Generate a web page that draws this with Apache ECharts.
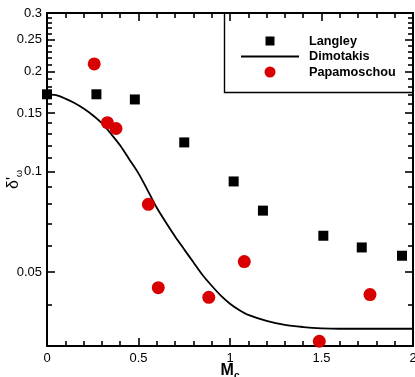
<!DOCTYPE html>
<html>
<head>
<meta charset="utf-8">
<script src="https://cdn.jsdelivr.net/npm/echarts@6/dist/echarts.min.js"></script>
<style>
  html, body { margin: 0; padding: 0; background: #fff; }
  #chart { width: 415px; height: 377px; }
</style>
</head>
<body>
<div id="chart"></div>
<script>
// Convective Mach number vs. normalised vorticity thickness growth
const langleyMc    = [0, 0.27, 0.48, 0.75, 1.02, 1.18, 1.51, 1.72, 1.94];
const langleyDelta = [0.171, 0.171, 0.165, 0.1226, 0.0936, 0.0765, 0.0643, 0.0593, 0.056];

const papamoschouMc    = [0.258, 0.33, 0.377, 0.554, 0.608, 0.884, 1.078, 1.488, 1.765];
const papamoschouDelta = [0.211, 0.1405, 0.135, 0.0799, 0.0449, 0.042, 0.0538, 0.031, 0.0428];

const dimotakisMc    = [0, 0.05, 0.1, 0.15, 0.2, 0.25, 0.3, 0.35, 0.4, 0.45, 0.5, 0.55, 0.6, 0.65, 0.7, 0.75, 0.8, 0.85, 0.9, 0.95, 1.0, 1.05, 1.1, 1.2, 1.3, 1.4, 1.5, 1.6, 1.8, 2.0];
const dimotakisDelta = [0.171, 0.170, 0.166, 0.161, 0.155, 0.148, 0.140, 0.130, 0.120, 0.109, 0.099, 0.088, 0.078, 0.0705, 0.064, 0.0585, 0.0535, 0.049, 0.0455, 0.0425, 0.0402, 0.0385, 0.0372, 0.0357, 0.0347, 0.0342, 0.0339, 0.0338, 0.0338, 0.0338];

// Axis ranges and tick values
const xMin = 0, xMax = 2, xStep = 0.5;
const yMin = 0.03, yMax = 0.3;
const yLabelValues = [0.05, 0.1, 0.15, 0.2, 0.25, 0.3];
const yMinorValues = [0.04, 0.06, 0.07, 0.08, 0.09, 0.11, 0.12, 0.13, 0.14,
                      0.16, 0.17, 0.18, 0.19, 0.21, 0.22, 0.23, 0.24,
                      0.26, 0.27, 0.28, 0.29];

const FONT = '"Liberation Sans", Arial, Helvetica, sans-serif';
const RED = '#d80000';
const TICK = { color: '#000', width: 1.6 };
const lg = v => Math.log10(v);

const chart = echarts.init(document.getElementById('chart'));

// Tick-only y axes laid over the logarithmic data axis (log10 space)
function tickAxis(position, values, len, withLabels, withLine) {
  return {
    type: 'value',
    position: position,
    min: lg(yMin),
    max: lg(yMax),
    axisLine: { show: withLine, lineStyle: { color: '#000', width: 2 } },
    axisTick: {
      show: true, inside: true, length: len,
      customValues: values.map(lg),
      lineStyle: TICK
    },
    axisLabel: {
      show: withLabels,
      customValues: yLabelValues.map(lg),
      margin: 5,
      color: '#000',
      fontFamily: FONT,
      fontSize: 13,
      formatter: v => String(+Math.pow(10, v).toPrecision(3))
    },
    splitLine: { show: false }
  };
}

function xAxisFor(position, withLabels) {
  return {
    type: 'value',
    position: position,
    min: xMin, max: xMax, interval: xStep,
    axisLine: { show: true, lineStyle: { color: '#000', width: 2 } },
    axisTick: { show: true, inside: true, length: 8, lineStyle: TICK },
    minorTick: { show: true, splitNumber: 5, length: 5, lineStyle: TICK },
    axisLabel: { show: withLabels, margin: 6, color: '#000', fontFamily: FONT, fontSize: 13 },
    splitLine: { show: false },
    minorSplitLine: { show: false }
  };
}

const xBottom = xAxisFor('bottom', true);
xBottom.name = '{m|M}{c|c}';
xBottom.nameLocation = 'middle';
xBottom.nameGap = 19;
xBottom.nameMoveOverlap = false;
xBottom.nameTextStyle = {
  rich: {
    m: { fontFamily: FONT, fontWeight: 'bold', fontSize: 16, color: '#000', lineHeight: 16, padding: [0, 0, 4, 0] },
    c: { fontFamily: FONT, fontWeight: 'bold', fontSize: 10, color: '#000', lineHeight: 10, verticalAlign: 'bottom' }
  }
};

const legendText = pad => ({
  fontFamily: FONT, fontWeight: 'bold', fontSize: 12.7, color: '#000', padding: [0, 0, 0, pad]
});

chart.setOption({
  animation: false,
  backgroundColor: '#fff',
  grid: { left: 47, right: 2, top: 13, bottom: 31, outerBoundsMode: 'none' },
  xAxis: [xBottom, xAxisFor('top', false)],
  yAxis: [
    {
      type: 'log',
      logBase: 10,
      position: 'left',
      min: yMin,
      max: yMax,
      axisLine: { show: true, lineStyle: { color: '#000', width: 2 } },
      axisTick: { show: false },
      axisLabel: { show: false },
      splitLine: { show: false },
      name: "{d|δ'}{w|ω}",
      nameLocation: 'middle',
      nameRotate: 90,
      nameGap: 23,
      nameMoveOverlap: false,
      nameTextStyle: {
        rich: {
          d: { fontFamily: FONT, fontSize: 16, color: '#000', lineHeight: 16, padding: [0, 0, 5, 0] },
          w: { fontFamily: FONT, fontSize: 9, color: '#000', lineHeight: 9, verticalAlign: 'bottom' }
        }
      }
    },
    tickAxis('left', yLabelValues, 8, true, false),
    tickAxis('left', yMinorValues, 5, false, false),
    tickAxis('right', yLabelValues, 8, false, true),
    tickAxis('right', yMinorValues, 5, false, false)
  ],
  legend: [
    {
      data: [{ name: 'Langley', icon: 'rect' }],
      left: 265.5, top: 34.5, padding: 0,
      itemWidth: 9, itemHeight: 9,
      selectedMode: false,
      textStyle: legendText(29.5)
    },
    {
      data: [{ name: 'Dimotakis', icon: 'rect' }],
      left: 241, top: 50, padding: 0,
      itemWidth: 58, itemHeight: 2,
      selectedMode: false,
      textStyle: legendText(5)
    },
    {
      data: [{ name: 'Papamoschou', icon: 'circle' }],
      left: 264.5, top: 65.5, padding: 0,
      itemWidth: 11, itemHeight: 11,
      selectedMode: false,
      textStyle: legendText(28.5)
    }
  ],
  graphic: [{
    type: 'rect',
    z: 3,
    shape: { x: 224.5, y: 13, width: 188.5, height: 79.5 },
    style: { fill: 'none', stroke: '#000', lineWidth: 1.4 },
    silent: true
  }],
  series: [
    {
      name: 'Dimotakis',
      type: 'line',
      smooth: 0.3,
      symbol: 'none',
      xAxisIndex: 0, yAxisIndex: 0,
      data: dimotakisMc.map((x, i) => [x, dimotakisDelta[i]]),
      lineStyle: { color: '#000', width: 1.8 },
      itemStyle: { color: '#000' },
      z: 2
    },
    {
      name: 'Langley',
      type: 'scatter',
      symbol: 'rect',
      symbolSize: 10,
      clip: false,
      xAxisIndex: 0, yAxisIndex: 0,
      data: langleyMc.map((x, i) => [x, langleyDelta[i]]),
      itemStyle: { color: '#000', opacity: 1 },
      z: 3
    },
    {
      name: 'Papamoschou',
      type: 'scatter',
      symbol: 'circle',
      symbolSize: 13,
      clip: false,
      xAxisIndex: 0, yAxisIndex: 0,
      data: papamoschouMc.map((x, i) => [x, papamoschouDelta[i]]),
      itemStyle: { color: RED, opacity: 1 },
      z: 3
    }
  ]
});
</script>
</body>
</html>
